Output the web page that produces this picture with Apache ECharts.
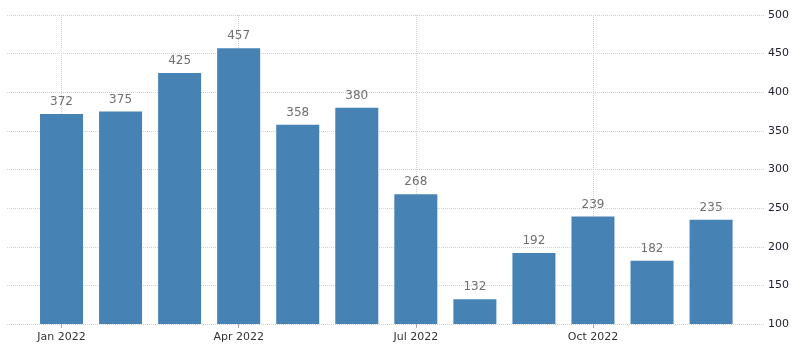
<!DOCTYPE html>
<html>
<head>
<meta charset="utf-8">
<script src="https://cdn.jsdelivr.net/npm/echarts@6/dist/echarts.min.js"></script>
<style>
  html, body { margin: 0; padding: 0; background: #fff; }
  #chart { width: 800px; height: 353px; }
</style>
</head>
<body>
<div id="chart"></div>
<script>
const months = ["Jan 2022", "Feb 2022", "Mar 2022", "Apr 2022", "May 2022", "Jun 2022",
  "Jul 2022", "Aug 2022", "Sep 2022", "Oct 2022", "Nov 2022", "Dec 2022"];
const values = [372, 375, 425, 457, 358, 380, 268, 132, 192, 239, 182, 235];
const gridMonths = ["Jan 2022", "Apr 2022", "Jul 2022", "Oct 2022"];

const font = "DejaVu Sans";
const gridColor = "#d2d2d2";

let myChart = echarts.init(document.getElementById("chart"));
myChart.setOption({
  animation: false,
  grid: [
    // background grid: only the horizontal dotted lines and right labels
    { left: 7, right: 35, top: 15, bottom: 29 },
    // bars
    { left: 32, right: 59.4, top: 15, bottom: 29 }
  ],
  xAxis: [
    { gridIndex: 0, type: "value", show: false, min: 0, max: 1 },
    {
      gridIndex: 1,
      type: "category",
      data: months,
      axisLine: { show: false },
      axisTick: { show: true, interval: 2, alignWithLabel: true, length: 4, lineStyle: { color: "#aaa" } },
      axisLabel: { interval: 2, color: "#333", fontFamily: font, fontSize: 11, margin: 8,
        formatter: (v, i) => (i % 3 === 0 ? v : "") },
      splitLine: { show: false }
    }
  ],
  yAxis: [
    {
      gridIndex: 0,
      type: "value",
      position: "right",
      min: 100, max: 500, interval: 50,
      axisLine: { show: false },
      axisTick: { show: false },
      axisLabel: { color: "#222233", fontFamily: font, fontSize: 11, margin: 3 },
      splitLine: { lineStyle: { color: gridColor, type: [1, 1], width: 1 } }
    },
    {
      gridIndex: 1,
      type: "value",
      min: 100, max: 500,
      show: false,
      splitLine: { show: false }
    }
  ],
  series: [
    {
      type: "bar",
      xAxisIndex: 1,
      yAxisIndex: 1,
      data: values,
      barWidth: 43,
      itemStyle: { color: "#4682b4" },
      label: { show: true, position: "top", distance: 6, color: "#707070", fontFamily: font, fontSize: 12 },
      markLine: {
        silent: true,
        symbol: "none",
        label: { show: false },
        lineStyle: { color: gridColor, type: [1, 1], width: 1 },
        data: gridMonths.map(m => ({ xAxis: m })),
        z: 0
      },
      z: 2
    }
  ]
});
</script>
</body>
</html>
